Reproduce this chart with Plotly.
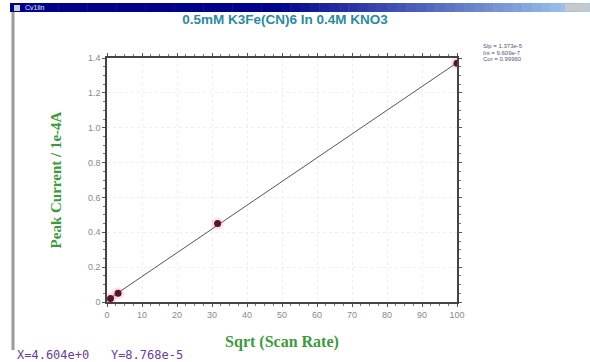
import numpy as np
import plotly.graph_objects as go

# Peak current vs. square root of scan rate
sqrt_scan_rate = [1.0, 3.16, 31.6, 100.0]
peak_current = [0.02, 0.05, 0.45, 1.37]  # units of 1e-4 A

x_ticks = [0, 10, 20, 30, 40, 50, 60, 70, 80, 90, 100]
x_tick_text = ["0", "10", "20", "30", "40", "50", "60", "70", "80", "90", "100"]
y_ticks = [0, 0.2, 0.4, 0.6, 0.8, 1.0, 1.2, 1.4]
y_tick_text = ["0", "0.2", "0.4", "0.6", "0.8", "1.0", "1.2", "1.4"]

fit_lines = ["Slp = 1.373e-5", "Int = 9.609e-7", "Cor = 0.99960"]
status_text = "X=4.604e+0   Y=8.768e-5"
window_name = "Cv1lin"

# least-squares fit line across the data range
slope, intercept = np.polyfit(sqrt_scan_rate, peak_current, 1)
fit_x = np.array([0.0, max(sqrt_scan_rate)])
fit_y = slope * fit_x + intercept

fig = go.Figure()
fig.add_trace(go.Scatter(
    x=fit_x, y=fit_y, mode="lines",
    line=dict(color="#555555", width=1), hoverinfo="skip", showlegend=False))
# soft halo behind markers
fig.add_trace(go.Scatter(
    x=sqrt_scan_rate, y=peak_current, mode="markers",
    marker=dict(size=12, color="rgba(230,120,150,0.22)", line=dict(width=0)),
    hoverinfo="skip", showlegend=False))
fig.add_trace(go.Scatter(
    x=sqrt_scan_rate, y=peak_current, mode="markers",
    marker=dict(size=7, color="#5a1428", line=dict(width=0)),
    showlegend=False))


def px(x):
    return (x - 107) / 350


def py(y):
    return (302 - y) / 244


shapes = []
# window title bar gradient (navy to light blue)
n_seg = 60
bar_left, bar_right = 10, 590
for i in range(n_seg):
    t = i / (n_seg - 1)
    if t < 0.45:
        r, g, b = 0, 0, 138
    else:
        u = (t - 0.45) / 0.55
        r = int(u * 165)
        g = int(u * 205)
        b = int(138 + u * (240 - 138))
    x0 = bar_left + (bar_right - bar_left) * i / n_seg
    x1 = bar_left + (bar_right - bar_left) * (i + 1) / n_seg + 0.5
    shapes.append(dict(type="rect", xref="paper", yref="paper",
                       x0=px(x0), x1=px(x1), y0=py(12), y1=py(3),
                       fillcolor=f"rgb({r},{g},{b})", line=dict(width=0), layer="below"))
# title-bar buttons
shapes.append(dict(type="rect", xref="paper", yref="paper",
                   x0=px(565), x1=px(589), y0=py(11), y1=py(4),
                   fillcolor="#c8c8c8", line=dict(width=0)))
# window icon
shapes.append(dict(type="rect", xref="paper", yref="paper",
                   x0=px(14), x1=px(20), y0=py(11), y1=py(5),
                   fillcolor="#d0d0d0", line=dict(width=0)))
# window left border
shapes.append(dict(type="line", xref="paper", yref="paper",
                   x0=px(13), x1=px(13), y0=py(350), y1=py(12),
                   line=dict(color="#9a9a9a", width=3)))

annotations = [
    dict(text=window_name, xref="paper", yref="paper",
         x=px(23), y=py(7.5), xanchor="left", yanchor="middle",
         showarrow=False, font=dict(family="Liberation Sans", size=7, color="#e8e8ff")),
    dict(text=status_text, xref="paper", yref="paper",
         x=px(15), y=py(355), xanchor="left", yanchor="middle",
         showarrow=False, font=dict(family="DejaVu Sans Mono", size=12, color="#6a3c9c")),
]
for i, line in enumerate(fit_lines):
    annotations.append(dict(
        text=line, xref="paper", yref="paper",
        x=px(481), y=py(46 + 6.5 * i),
        xanchor="left", yanchor="middle", showarrow=False,
        font=dict(family="Liberation Sans", size=6, color="#555577")))

axis_common = dict(
    showline=True, linecolor="#444444", linewidth=1.5, mirror="ticks",
    ticks="outside", ticklen=3, tickcolor="#555555", tickwidth=1,
    showgrid=True, gridcolor="#efefef", griddash="dot", gridwidth=1,
    zeroline=False,
    tickfont=dict(family="Liberation Sans", size=9, color="#8a8a8a"),
)

fig.update_layout(
    width=590, height=362,
    margin=dict(l=107, r=133, t=58, b=60),
    paper_bgcolor="white", plot_bgcolor="white",
    title=dict(text="<b>0.5mM K3Fe(CN)6 In 0.4M KNO3</b>",
               x=px(285), xref="paper", xanchor="center",
               y=1 - 19 / 362, yanchor="middle",
               font=dict(family="Liberation Sans", size=13.5, color="#2a8aa0")),
    xaxis=dict(range=[0, 100], tickvals=x_ticks, ticktext=x_tick_text,
               minor=dict(dtick=2.5, ticks="outside", ticklen=2, tickcolor="#777777",
                          showgrid=False),
               title=dict(text="<b>Sqrt (Scan Rate)</b>", standoff=17,
                          font=dict(family="Liberation Serif", size=16, color="#3c9a3c")),
               **axis_common),
    yaxis=dict(range=[0, 1.4], tickvals=y_ticks, ticktext=y_tick_text,
               minor=dict(dtick=0.05, ticks="outside", ticklen=2, tickcolor="#777777",
                          showgrid=False),
               title=dict(text="<b>Peak Current / 1e-4A</b>", standoff=23,
                          font=dict(family="Liberation Serif", size=15, color="#3c9a3c")),
               **axis_common),
    shapes=shapes,
    annotations=annotations,
)

fig.write_html("out.html")
